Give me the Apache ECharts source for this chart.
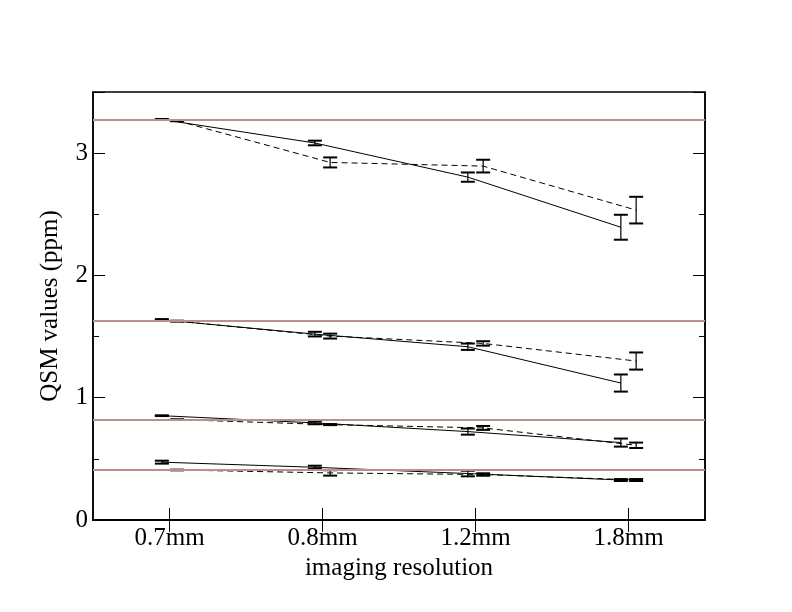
<!DOCTYPE html>
<html>
<head>
<meta charset="utf-8">
<script src="https://cdn.jsdelivr.net/npm/echarts@6/dist/echarts.min.js"></script>
<style>
  html, body { margin: 0; padding: 0; background: #fff; }
  #container { width: 792px; height: 612px; }
</style>
</head>
<body>
<div id="container"></div>
<script>
var dom = document.getElementById("container");
var myChart = echarts.init(dom);

// categories on the x axis, placed at 1..4
var categories = ['0.7mm', '0.8mm', '1.2mm', '1.8mm'];
var catPos = [1, 2, 3, 4];
var offset = 0.05; // solid series drawn slightly left, dashed slightly right

// reference (true) values drawn as horizontal lines
var refLevels = [3.27, 1.63, 0.82, 0.41];

// solid series: means and half error widths, one group per reference level
var solidMean = [
    [3.275, 3.083, 2.804, 2.394],
    [1.637, 1.520, 1.417, 1.120],
    [0.853, 0.794, 0.723, 0.633],
    [0.473, 0.431, 0.380, 0.327]
];
var solidErr = [
    [0.004, 0.019, 0.038, 0.102],
    [0.006, 0.019, 0.026, 0.070],
    [0.003, 0.011, 0.025, 0.033],
    [0.012, 0.013, 0.023, 0.008]
];

// dashed series
var dashMean = [
    [3.265, 2.924, 2.894, 2.534],
    [1.626, 1.504, 1.444, 1.300],
    [0.821, 0.780, 0.753, 0.611],
    [0.409, 0.385, 0.372, 0.327]
];
var dashErr = [
    [0.004, 0.041, 0.052, 0.109],
    [0.004, 0.020, 0.018, 0.070],
    [0.003, 0.004, 0.016, 0.022],
    [0.003, 0.022, 0.010, 0.008]
];

var serifFont = '"Liberation Serif", "DejaVu Serif", serif';

function linePoints(means, shift) {
    return means.map(function (v, i) { return [catPos[i] + shift, v]; });
}
function errPoints(means, errs, shift) {
    return means.map(function (v, i) {
        return [catPos[i] + shift, v - errs[i], v + errs[i]];
    });
}

function renderErr(params, api) {
    var x = api.value(0);
    var lo = api.coord([x, api.value(1)]);
    var hi = api.coord([x, api.value(2)]);
    var half = 7;
    return {
        type: 'group',
        children: [
            { type: 'line', shape: { x1: lo[0], y1: lo[1], x2: hi[0], y2: hi[1] },
              style: { stroke: '#000', lineWidth: 1.2 } },
            { type: 'line', shape: { x1: lo[0] - half, y1: lo[1], x2: lo[0] + half, y2: lo[1] },
              style: { stroke: '#000', lineWidth: 2 } },
            { type: 'line', shape: { x1: hi[0] - half, y1: hi[1], x2: hi[0] + half, y2: hi[1] },
              style: { stroke: '#000', lineWidth: 2 } }
        ]
    };
}

var series = [];

// reference lines
series.push({
    type: 'line',
    data: [],
    silent: true,
    markLine: {
        silent: true,
        symbol: 'none',
        label: { show: false },
        lineStyle: { color: '#bc8f8f', width: 2, type: 'solid' },
        data: refLevels.map(function (v) { return { yAxis: v }; })
    }
});

for (var g = 0; g < solidMean.length; g++) {
    series.push({
        type: 'line',
        data: linePoints(solidMean[g], -offset),
        showSymbol: false,
        symbol: 'none',
        lineStyle: { color: '#000', width: 1 },
        z: 3
    });
    series.push({
        type: 'line',
        data: linePoints(dashMean[g], offset),
        showSymbol: false,
        symbol: 'none',
        lineStyle: { color: '#000', width: 1, type: [6, 4] },
        z: 3
    });
    series.push({
        type: 'custom',
        renderItem: renderErr,
        data: errPoints(solidMean[g], solidErr[g], -offset),
        z: 4
    });
    series.push({
        type: 'custom',
        renderItem: renderErr,
        data: errPoints(dashMean[g], dashErr[g], offset),
        z: 4
    });
}

var option = {
    animation: false,
    backgroundColor: '#fff',
    grid: {
        left: 93,
        right: 87,
        top: 92,
        bottom: 92,
        show: true,
        borderColor: '#000',
        borderWidth: 1.5
    },
    xAxis: [{
        type: 'value',
        min: 0.5,
        max: 4.5,
        name: 'imaging resolution',
        nameLocation: 'middle',
        nameGap: 30,
        nameTextStyle: { fontFamily: serifFont, fontSize: 25, color: '#000' },
        axisLine: { show: true, lineStyle: { color: '#000', width: 1.5 } },
        axisTick: { show: true, inside: true, length: 12, customValues: catPos,
                    lineStyle: { color: '#000' } },
        axisLabel: {
            customValues: catPos,
            fontFamily: serifFont, fontSize: 25, color: '#000', margin: 6,
            formatter: function (v) { return categories[Math.round(v) - 1]; }
        },
        splitLine: { show: false }
    }, {
        type: 'value',
        position: 'top',
        min: 0.5,
        max: 4.5,
        axisLine: { show: true, lineStyle: { color: '#000', width: 1.5 } },
        axisTick: { show: true, inside: true, length: 12, customValues: catPos,
                    lineStyle: { color: '#000' } },
        axisLabel: { show: false },
        splitLine: { show: false }
    }],
    yAxis: [{
        type: 'value',
        min: 0,
        max: 3.5,
        interval: 1,
        name: 'QSM values (ppm)',
        nameLocation: 'middle',
        nameGap: 30,
        nameTextStyle: { fontFamily: serifFont, fontSize: 25, color: '#000' },
        axisLine: { show: true, lineStyle: { color: '#000', width: 1.5 } },
        axisTick: { show: true, inside: true, length: 12, lineStyle: { color: '#000' } },
        minorTick: { show: true, splitNumber: 2, length: 6, lineStyle: { color: '#000' } },
        axisLabel: { fontFamily: serifFont, fontSize: 25, color: '#000', margin: 5,
                     showMaxLabel: false },
        splitLine: { show: false },
        minorSplitLine: { show: false }
    }, {
        type: 'value',
        position: 'right',
        min: 0,
        max: 3.5,
        interval: 1,
        axisLine: { show: true, lineStyle: { color: '#000', width: 1.5 } },
        axisTick: { show: true, inside: true, length: 12, lineStyle: { color: '#000' } },
        minorTick: { show: true, splitNumber: 2, length: 6, lineStyle: { color: '#000' } },
        axisLabel: { show: false },
        splitLine: { show: false },
        minorSplitLine: { show: false }
    }],
    series: series
};

myChart.setOption(option, true);
</script>
</body>
</html>
